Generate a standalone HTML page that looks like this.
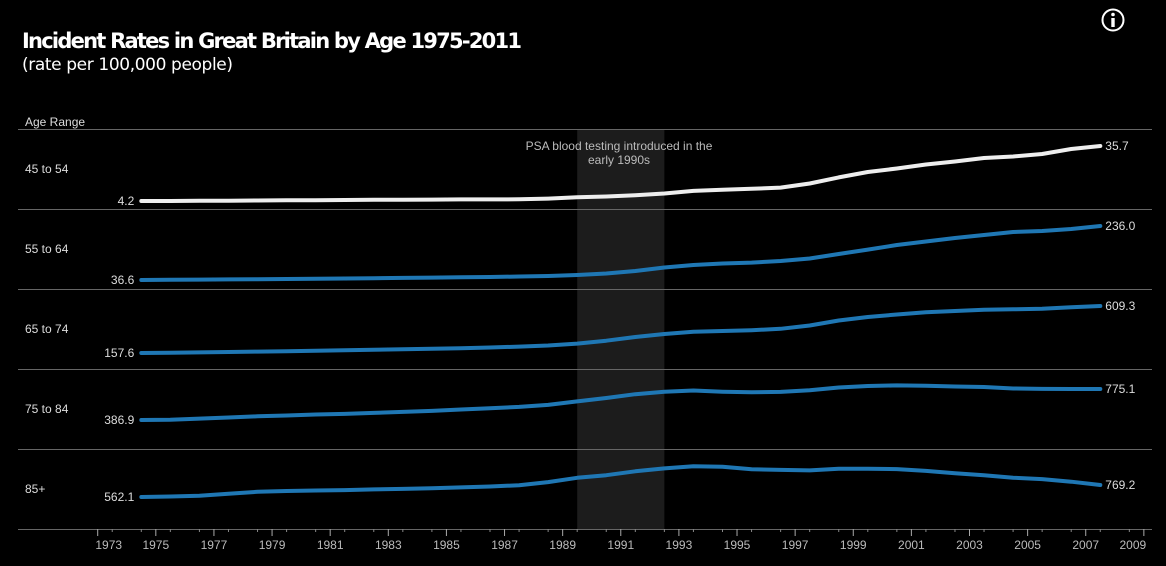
<!DOCTYPE html>
<html><head><meta charset="utf-8"><style>
body{margin:0;background:#000;width:1166px;height:561px;overflow:hidden;font-family:"Liberation Sans",sans-serif}
</style></head><body>
<svg id="chart" width="1166" height="561" xmlns="http://www.w3.org/2000/svg">
<text x="22" y="48" fill="#fff" font-size="21" font-weight="bold" font-family="DejaVu Sans, sans-serif" textLength="500">Incident Rates in Great Britain by Age 1975-2011</text>
<text x="22" y="70" fill="#fff" font-size="17" font-family="DejaVu Sans, sans-serif" textLength="211">(rate per 100,000 people)</text>
<g>
<circle cx="1113" cy="20" r="10.5" fill="none" stroke="#fff" stroke-width="2"/>
<circle cx="1113" cy="14.5" r="1.8" fill="#fff"/>
<rect x="1111.3" y="18" width="3.4" height="9" fill="#fff"/>
</g>
<text x="25" y="126" fill="#ddd" font-size="12">Age Range</text>
<g id="g"></g>
</svg>
<script>
const years=[1975,1976,1977,1978,1979,1980,1981,1982,1983,1984,1985,1986,1987,1988,1989,1990,1991,1992,1993,1994,1995,1996,1997,1998,1999,2000,2001,2002,2003,2004,2005,2006,2007,2008];
const ageRanges=["45 to 54","55 to 64","65 to 74","75 to 84","85+"];
const rate45=[4.2,4.2,4.3,4.4,4.5,4.6,4.6,4.8,4.9,4.9,5.0,5.1,5.1,5.2,5.6,6.3,6.8,7.5,8.5,10.0,10.7,11.2,11.9,14.2,17.7,20.8,22.8,25.1,26.8,28.8,29.7,31.1,34.0,35.7];
const rate55=[36.6,37.3,38,38.8,39.5,40.3,41,42.1,43.2,44.3,45.5,46.6,47.7,49.5,51.4,55,60.6,69.8,82.7,92,97.5,101,106.7,116,132.5,149,165.8,178.7,191.6,202.7,213.7,217.4,224.8,236.0];
const rate65=[157.6,160.5,163.4,167.2,171,174.9,178.7,183.5,188.4,193.2,198,203.7,210.5,219.1,229.7,248,275.8,311.4,340.2,361.3,369,376.7,390.2,421.9,470,503.6,527.6,548.7,561.2,572.8,577.6,582.4,597.7,609.3];
const rate75=[386.9,389.4,404.6,418.5,433.7,443.8,455.2,462.8,475.4,488.1,500.7,518.5,534.9,551.3,576.6,619.6,662.7,709.5,741.1,756.3,741.1,733.5,738.5,760,794.2,813.1,820.7,816.9,806.8,800.5,781.5,776.4,775.1,775.1];
const rate85=[562.1,570.5,584,617.7,651.3,664.8,674.9,681.7,693.5,701.9,713.7,727.1,744,765.9,819.8,893.9,937.6,1005,1055.5,1094.2,1084.1,1042,1030.2,1021.8,1050.5,1048.8,1043.7,1011.7,971.3,937.6,895.5,870.3,826.5,769.2];
const tickYears=[1973,1975,1977,1979,1981,1983,1985,1987,1989,1991,1993,1995,1997,1999,2001,2003,2005,2007,2009];
const series=[rate45,rate55,rate65,rate75,rate85];
const domLo=[4.2,36.6,157.6,386.9,562.1];
const domHi=[35.7,236.0,609.3,775.1,769.2];
const NS="http://www.w3.org/2000/svg";
const g=document.getElementById('g');
const xS=y=>97.7+(y-1973)*29.06;
const px=yr=>xS(yr-0.5);
const rowTop=i=>129+i*80;
const yLoOff=[72,71,64,51,48],yHiOff=[17,17,17,20,36];
function yS(i,v){const a=rowTop(i)+yLoOff[i],b=rowTop(i)+yHiOff[i];return a+(v-domLo[i])/(domHi[i]-domLo[i])*(b-a);}
function mk(t,at){const e=document.createElementNS(NS,t);for(const k in at)e.setAttribute(k,at[k]);g.appendChild(e);return e;}
const sh=mk('rect',{x:px(1990),y:129,width:px(1993)-px(1990),height:400,fill:'#1c1c1c'});


const an=mk('text',{x:619,y:150,fill:'#bbb','font-size':12,'text-anchor':'middle'});an.textContent='PSA blood testing introduced in the';


const an2=mk('text',{x:619,y:164,fill:'#bbb','font-size':12,'text-anchor':'middle'});an2.textContent='early 1990s';


for(let i=0;i<=5;i++){const l=mk('line',{x1:18,x2:1152,y1:rowTop(i)+0.5,y2:rowTop(i)+0.5,stroke:'#666','stroke-width':1});

}
ageRanges.forEach((r,i)=>{
const t=mk('text',{x:25,y:rowTop(i)+44,fill:'#ddd','font-size':12});t.textContent=r;


const d=series[i];
const p=mk('path',{d:d.map((v,j)=>(j?'L':'M')+px(years[j]).toFixed(1)+','+yS(i,v).toFixed(1)).join(''),fill:'none',stroke:i?'#1f77b4':'#eeeeee','stroke-width':4,'stroke-linejoin':'round','stroke-linecap':'round'});


const s=mk('text',{x:px(years[0])-7,y:yS(i,d[0])+4,fill:'#ddd','font-size':12,'text-anchor':'end'});s.textContent=d[0].toFixed(1);


const n=d.length-1;
const e=mk('text',{x:px(years[n])+5,y:yS(i,d[n])+4,fill:'#ddd','font-size':12});e.textContent=d[n].toFixed(1);


});
for(let y=1973;y<=2009;y++){
if(y%2===1){const tk=mk('line',{x1:xS(y),x2:xS(y),y1:529,y2:536,stroke:'#aaa'});

}
if(y<2009){const m=mk('line',{x1:xS(y+0.5),x2:xS(y+0.5),y1:529,y2:532,stroke:'#888'});

}
}
tickYears.forEach((y,k)=>{const off=k===0?11:(k===tickYears.length-1?-11:0);
const t=mk('text',{x:xS(y)+off,y:549,fill:'#bbb','font-size':12,'text-anchor':'middle'});t.textContent=y;

});
</script>
</body></html>
